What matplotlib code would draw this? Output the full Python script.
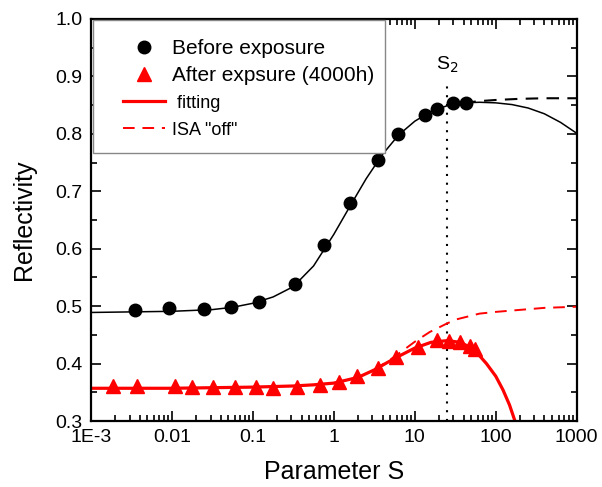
import matplotlib
matplotlib.use('Agg')
import matplotlib.pyplot as plt
from matplotlib.patches import Rectangle
from matplotlib.ticker import LogLocator, MultipleLocator, NullFormatter
import numpy as np

plt.rcParams['font.family'] = ['Liberation Sans', 'DejaVu Sans']

# measured reflectivity
s_before = [0.0035, 0.0093, 0.025, 0.053, 0.12, 0.33, 0.76, 1.6, 3.5, 6.2, 13.3, 19, 30, 43]
r_before = [0.493, 0.496, 0.495, 0.498, 0.508, 0.538, 0.607, 0.680, 0.754, 0.800, 0.833, 0.844, 0.853, 0.854]

s_after = [0.00185, 0.0037, 0.0109, 0.0175, 0.0324, 0.06, 0.108, 0.175, 0.352, 0.67, 1.15,
           1.91, 3.52, 5.94, 11.0, 18.8, 26.5, 36.6, 48.7, 55]
r_after = [0.361, 0.361, 0.361, 0.360, 0.359, 0.360, 0.359, 0.357, 0.359, 0.363, 0.368,
           0.378, 0.393, 0.411, 0.428, 0.441, 0.440, 0.438, 0.430, 0.425]

# fitted curves (log10 S, R)
fit_before_logs = [-3, -2.5, -2, -1.5, -1.25, -1, -0.75, -0.5, -0.25, 0, 0.2, 0.4, 0.6, 0.8,
                   1.0, 1.2, 1.4, 1.6, 1.8, 2.0, 2.2, 2.4, 2.6, 2.8, 3.0]
fit_before_r = [0.489, 0.490, 0.491, 0.494, 0.498, 0.505, 0.516, 0.534, 0.570, 0.625, 0.674,
                0.722, 0.764, 0.798, 0.822, 0.839, 0.849, 0.854, 0.855, 0.854, 0.851,
                0.845, 0.835, 0.820, 0.801]

off_before_logs = [1.6, 1.8, 2.0, 2.3, 2.6, 3.0]
off_before_r = [0.854, 0.857, 0.859, 0.861, 0.862, 0.862]

fit_after_logs = [-3, -2, -1.5, -1, -0.5, -0.25, 0, 0.3, 0.5, 0.75, 1.0, 1.2, 1.4, 1.56,
                  1.69, 1.76, 1.885, 2.0, 2.09, 2.17, 2.235, 2.3]
fit_after_r = [0.357, 0.357, 0.358, 0.359, 0.361, 0.363, 0.366, 0.376, 0.389, 0.409, 0.427,
               0.437, 0.440, 0.437, 0.428, 0.420, 0.400, 0.378, 0.354, 0.328, 0.301, 0.27]

off_after_logs = [0.5, 0.75, 1.0, 1.185, 1.4, 1.515, 1.8, 2.0, 2.255, 2.6, 3.0]
off_after_r = [0.389, 0.412, 0.438, 0.455, 0.470, 0.477, 0.487, 0.490, 0.493, 0.497, 0.499]

s2 = 25
xtick_vals = [1e-3, 1e-2, 1e-1, 1, 10, 100, 1000]
xtick_labels = ['1E-3', '0.01', '0.1', '1', '10', '100', '1000']

fig = plt.figure(figsize=(6.02, 4.87), dpi=100)
ax = fig.add_axes([0.151, 0.1355, 0.807, 0.8255])

ax.plot(10 ** np.array(fit_before_logs), fit_before_r, color='black', lw=1.1, zorder=2)
ax.plot(10 ** np.array(off_before_logs), off_before_r, color='black', lw=1.5,
        dashes=(6, 4), zorder=2)
ax.plot(10 ** np.array(fit_after_logs), fit_after_r, color='red', lw=2.3, zorder=2,
        label=' fitting')
ax.plot(10 ** np.array(off_after_logs), off_after_r, color='red', lw=1.4,
        dashes=(6, 4), zorder=2, label='ISA "off"')

ax.plot(s_before, r_before, 'o', color='black', ms=9, zorder=3, label='Before exposure')
ax.plot(s_after, r_after, '^', color='red', ms=9.5, zorder=3, label='After expsure (4000h)')

ax.plot([s2, s2], [0.3, 0.893], color='black', lw=1.5, ls=(0, (1, 3.2)), zorder=1)
ax.text(s2, 0.903, 'S$_2$', ha='center', va='bottom', fontsize=14)

ax.set_xscale('log')
ax.set_xlim(1e-3, 1000)
ax.set_ylim(0.3, 1.0)
ax.set_xticks(xtick_vals)
ax.set_xticklabels(xtick_labels)
ax.xaxis.set_minor_locator(LogLocator(base=10, subs=np.arange(2, 10), numticks=20))
ax.xaxis.set_minor_formatter(NullFormatter())
ax.yaxis.set_major_locator(MultipleLocator(0.1))
ax.yaxis.set_minor_locator(MultipleLocator(0.05))
ax.yaxis.set_major_formatter(plt.FormatStrFormatter('%.1f'))

ax.tick_params(which='both', direction='in', top=True, right=True, labelsize=14, width=1.2)
ax.tick_params(which='major', length=7, pad=6)
ax.tick_params(which='minor', length=4)
for sp in ax.spines.values():
    sp.set_linewidth(1.6)

ax.set_xlabel('Parameter S', fontsize=18, labelpad=10)
ax.set_ylabel('Reflectivity', fontsize=18, labelpad=14)

# legend box drawn separately so the entries can sit further in
ax.add_patch(Rectangle((0.004, 0.667), 0.601, 0.331, transform=ax.transAxes,
                       facecolor='white', edgecolor='#888888', lw=1.0, zorder=4))

handles, labels = ax.get_legend_handles_labels()
order = [2, 3, 0, 1]
leg = ax.legend([handles[i] for i in order], [labels[i] for i in order],
                loc='upper left', bbox_to_anchor=(0.066, 0.950), borderaxespad=0,
                borderpad=0, fontsize=15, frameon=False, handlelength=2.0,
                handletextpad=0.35, labelspacing=0.4)
leg.set_zorder(5)
for t in leg.get_texts()[2:]:
    t.set_fontsize(13)

fig.savefig('out.png', dpi=100)
